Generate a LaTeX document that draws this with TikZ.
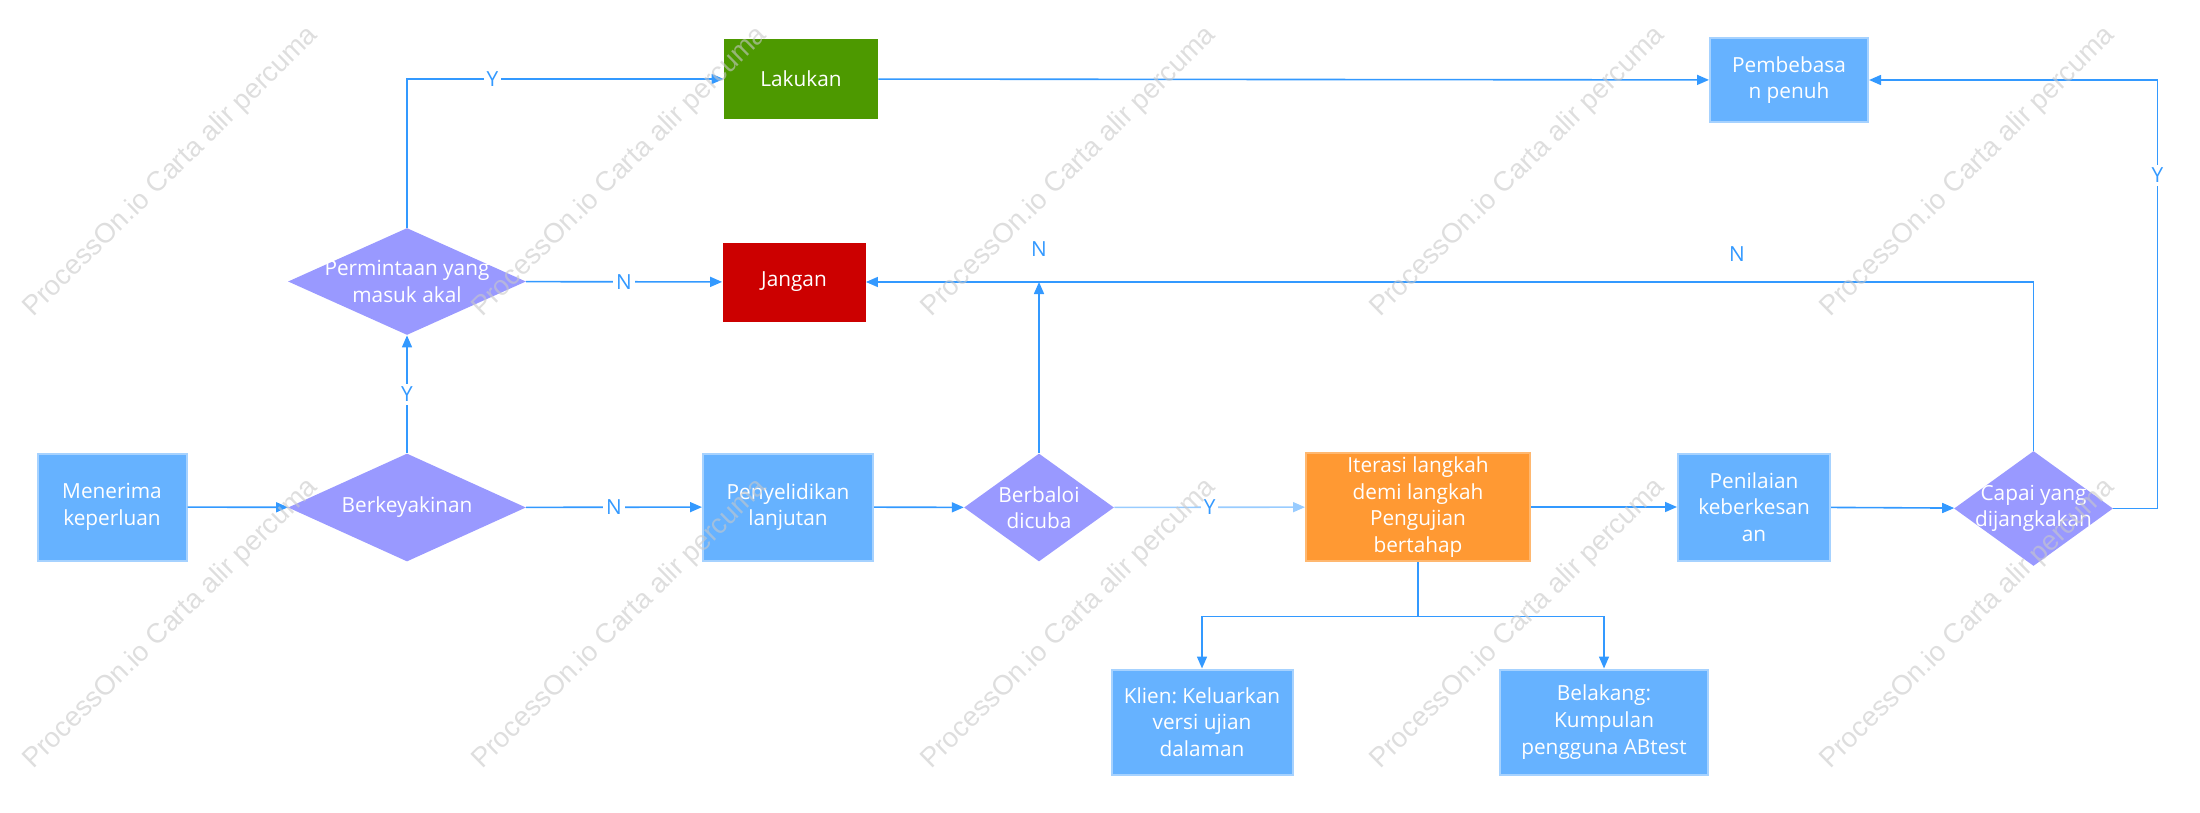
\documentclass[tikz,border=0pt]{standalone}
\usepackage{fontspec}
\setmainfont{Open Sans}
\newfontfamily\wmfont{Liberation Sans}
\usepackage{tikz}
\usetikzlibrary{arrows.meta,positioning,shapes.geometric}
\definecolor{boxblue}{HTML}{66B2FF}
\definecolor{boxline}{HTML}{A6D2FF}
\definecolor{diafill}{HTML}{9999FF}
\definecolor{dogreen}{HTML}{4D9900}
\definecolor{dontred}{HTML}{CC0000}
\definecolor{iterorange}{HTML}{FF9933}
\definecolor{iterline}{HTML}{FFB870}
\definecolor{linkblue}{HTML}{3399FF}
\definecolor{linklight}{HTML}{99CCFF}
\definecolor{wmgray}{HTML}{C8C8C8}
\frenchspacing

\begin{document}
\begin{tikzpicture}[x=0.5pt, y=-0.5pt, >={Triangle[length=6pt, width=5pt]},
  txt/.style={text=white, align=center, font=\fontsize{10.4}{13.3}\selectfont},
  box/.style={txt, draw=boxline, fill=boxblue, line width=1pt, inner sep=2pt},
  dia/.style={diamond, fill=diafill, inner sep=0pt},
  link/.style={->, draw=linkblue, line width=0.8pt},
  lbl/.style={fill=white, text=linkblue, inner sep=1.5pt, font=\fontsize{10.4}{12}\selectfont},
  wmark/.style={text=wmgray, text opacity=0.6, rotate=44.5,
                font=\wmfont\fontsize{13.8}{16}\selectfont}]
  \useasboundingbox (0,0) rectangle (2200,813);

  % main row
  \node[box, minimum width=74.5pt, minimum height=53.5pt] (menerima) at (112,507) {Menerima\\keperluan};
  \node[dia, minimum width=119pt, minimum height=54pt] (yakin) at (407,507.5) {};
  \node[txt] (yakin-t) at (yakin) {Berkeyakinan};
  \node[box, minimum width=85pt, minimum height=53.5pt] (selidik) at (788,507) {Penyelidikan\\lanjutan};
  \node[dia, minimum width=75pt, minimum height=54pt] (baloi) at (1039,507.5) {};
  \node[txt] (baloi-t) at (baloi) {Berbaloi\\dicuba};
  \node[box, fill=iterorange, draw=iterline, minimum width=112pt, minimum height=53.5pt] (iterasi) at (1418,507)
    {Iterasi langkah\\demi langkah\\Pengujian\\bertahap};
  \node[box, minimum width=76pt, minimum height=53.5pt] (nilai) at (1754,507) {Penilaian\\keberkesan\\an};
  \node[dia, minimum width=79.5pt, minimum height=57.5pt] (capai) at (2033.5,508.5) {};
  \node[txt] (capai-t) at (capai) {Capai yang\\dijangkakan};

  % upper rows
  \node[dia, minimum width=119pt, minimum height=53.5pt] (munasabah) at (407,281.5) {};
  \node[txt] (munasabah-t) at (munasabah) {Permintaan yang\\masuk akal};
  \node[txt, fill=dogreen, minimum width=77pt, minimum height=40pt] (lakukan) at (801,79) {Lakukan};
  \node[txt, fill=dontred, minimum width=71.5pt, minimum height=39.5pt] (jangan) at (794,282) {Jangan};
  \node[box, minimum width=79pt, minimum height=42pt] (bebas) at (1789,80) {Pembebasa\\n penuh};

  % lower row
  \node[box, minimum width=90.5pt, minimum height=52.5pt] (klien) at (1202,722) {Klien: Keluarkan\\versi ujian\\dalaman};
  \node[box, minimum width=104pt, minimum height=52.5pt] (belakang) at (1604,722) {Belakang:\\Kumpulan\\pengguna ABtest};

  \coordinate (baloi-up) at (baloi |- jangan);

  \draw[link] (menerima) -- (yakin);
  \draw[link] (yakin) -- node[lbl]{N} (selidik);
  \draw[link] (yakin) -- node[lbl]{Y} (munasabah);
  \draw[link] (munasabah.north) |- node[lbl, pos=0.635]{Y} (lakukan.west);
  \draw[link] (munasabah) -- node[lbl]{N} (jangan);
  \draw[link] (lakukan) -- (bebas);
  \draw[link] (selidik) -- (baloi);
  \draw[link] (baloi.north) -- node[lbl, at end, above=10.8pt]{N} (baloi-up);
  \draw[link, draw=linklight] (baloi) -- node[lbl]{Y} (iterasi);
  \draw[link] (iterasi) -- (nilai);
  \draw[link] (nilai) -- (capai);
  \draw[link] (capai.north) |- node[lbl, pos=0.627, above=8.3pt]{N} (jangan.east);
  \draw[link] (capai.east) -- ++(44,0) |- node[lbl, pos=0.389]{Y} (bebas.east);
  \draw[link] (iterasi.south) -- ++(0,54) -| (klien.north);
  \draw[link] (iterasi.south) -- ++(0,54) -| (belakang.north);

  % watermark
  \foreach \wx [count=\i] in {171,620,1069,1518,1968}
    \foreach \wy [count=\j] in {172,624}
      \node[wmark] (wm-\i-\j) at (\wx,\wy) {ProcessOn.io Carta alir percuma};
\end{tikzpicture}
\end{document}
